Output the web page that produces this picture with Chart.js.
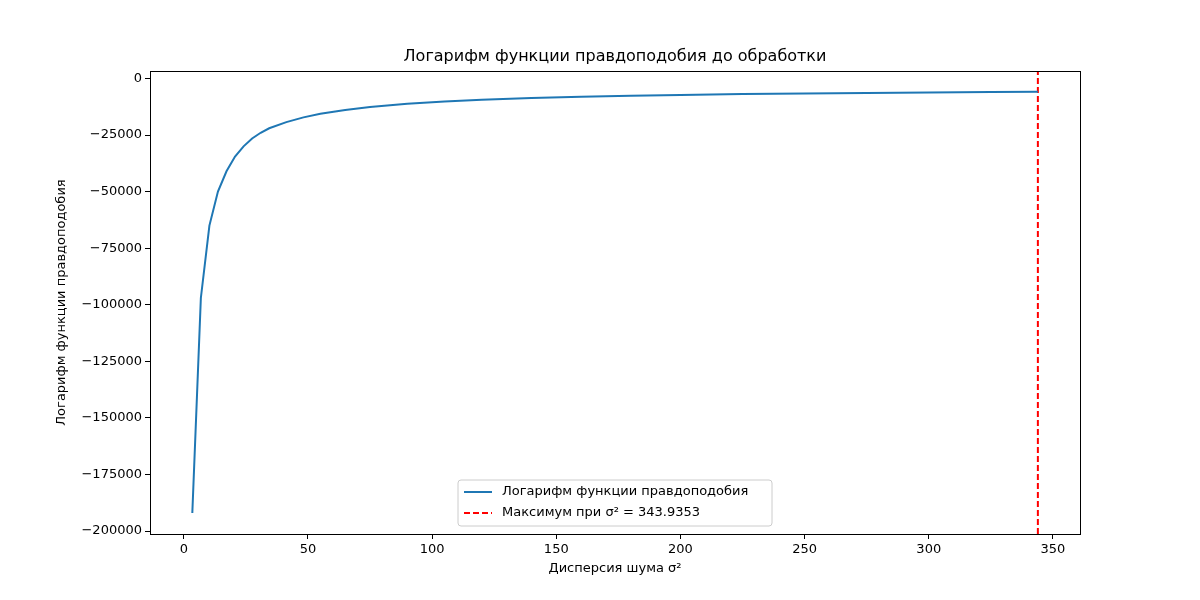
<!DOCTYPE html>
<html><head><meta charset="utf-8">
<script src="https://cdn.jsdelivr.net/npm/chart.js@4"></script>
<style>body{margin:0;background:#fff}#c{display:block}</style>
</head><body>
<canvas id="c" width="1200" height="600"></canvas>
<script>
var sigma = [3.44, 6.88, 10.32, 13.76, 17.2, 20.64, 24.08, 27.52, 30.96, 34.4, 41.3, 48.2, 55, 65, 75, 90, 105, 120, 140, 160, 180, 200, 225, 250, 275, 300, 325, 343.94];
var logLik = [-192000, -97000, -65000, -50000, -41000, -34500, -30000, -26500, -24000, -22000, -19300, -17200, -15600, -13900, -12600, -11200, -10200, -9400, -8600, -8100, -7600, -7300, -6900, -6600, -6400, -6200, -6000, -5900];
var maxSigma = 343.9353;
var xTicks = [0, 50, 100, 150, 200, 250, 300, 350];
var yTicks = [-200000, -175000, -150000, -125000, -100000, -75000, -50000, -25000, 0];
var yMin = -201300, yMax = 3300;

var font = {family: 'DejaVu Sans', size: 13};

var extras = {
  id: 'extras',
  afterDraw: function(chart) {
    var ctx = chart.ctx, a = chart.chartArea;
    ctx.save();
    ctx.strokeStyle = '#000'; ctx.lineWidth = 1;
    ctx.strokeRect(a.left + 0.5, a.top + 0.5, a.right - a.left, a.bottom - a.top);
    ctx.fillStyle = '#000';
    ctx.font = '16px DejaVu Sans';
    ctx.textAlign = 'center'; ctx.textBaseline = 'bottom';
    ctx.fillText('Логарифм функции правдоподобия до обработки', (a.left + a.right) / 2, a.top - 6);
    // axis titles
    ctx.font = '13px DejaVu Sans';
    ctx.textBaseline = 'middle';
    ctx.fillText('Дисперсия шума σ²', (a.left + a.right) / 2, 569);
    ctx.save();
    ctx.translate(62, (a.top + a.bottom) / 2);
    ctx.rotate(-Math.PI / 2);
    ctx.fillText('Логарифм функции правдоподобия', 0, 0);
    ctx.restore();
    // legend
    var w = 314, h = 46, x = (a.left + a.right) / 2 - w / 2, y = a.bottom - h - 8;
    ctx.fillStyle = 'rgba(255,255,255,0.8)';
    ctx.strokeStyle = '#ccc';
    ctx.beginPath(); ctx.roundRect(x, y, w, h, 3); ctx.fill(); ctx.stroke();
    ctx.font = '13px DejaVu Sans'; ctx.textAlign = 'left'; ctx.textBaseline = 'middle';
    ctx.lineWidth = 2;
    ctx.strokeStyle = '#1f77b4';
    ctx.beginPath(); ctx.moveTo(x + 6, y + 12); ctx.lineTo(x + 34, y + 12); ctx.stroke();
    ctx.strokeStyle = 'red'; ctx.setLineDash([6, 3]);
    ctx.beginPath(); ctx.moveTo(x + 6, y + 33); ctx.lineTo(x + 34, y + 33); ctx.stroke();
    ctx.setLineDash([]);
    ctx.fillStyle = '#000';
    ctx.fillText('Логарифм функции правдоподобия', x + 44, y + 12);
    ctx.fillText('Максимум при σ² = ' + maxSigma, x + 44, y + 33);
    ctx.restore();
  }
};

new Chart(document.getElementById('c'), {
  type: 'scatter',
  data: {
    datasets: [{
      data: sigma.map(function(s, i) { return {x: s, y: logLik[i]}; }),
      showLine: true, borderColor: '#1f77b4', borderWidth: 2, pointRadius: 0, tension: 0
    }, {
      data: [{x: maxSigma, y: yMin}, {x: maxSigma, y: yMax}],
      showLine: true, borderColor: 'red', borderWidth: 2, borderDash: [6, 3], pointRadius: 0
    }]
  },
  options: {
    responsive: false, animation: false,
    layout: {padding: {top: 71, right: 120, left: 0, bottom: 0}},
    plugins: {legend: {display: false}, tooltip: {enabled: false}},
    scales: {
      x: {
        min: -13.6, max: 360.9,
        afterBuildTicks: function(s) { s.ticks = xTicks.map(function(v) { return {value: v}; }); },
        afterFit: function(s) { s.height = 66; },
        grid: {drawOnChartArea: false, tickLength: 5, tickColor: '#000'},
        border: {display: false},
        ticks: {color: '#000', font: font, padding: 3, maxRotation: 0}
      },
      y: {
        min: yMin, max: yMax,
        afterBuildTicks: function(s) { s.ticks = yTicks.map(function(v) { return {value: v}; }); },
        afterFit: function(s) { s.width = 150; },
        grid: {drawOnChartArea: false, tickLength: 5, tickColor: '#000'},
        border: {display: false},
        ticks: {color: '#000', font: font, padding: 3, callback: function(v) { return v < 0 ? '\u2212' + (-v) : v; }}
      }
    }
  },
  plugins: [extras]
});
</script>
</body></html>
